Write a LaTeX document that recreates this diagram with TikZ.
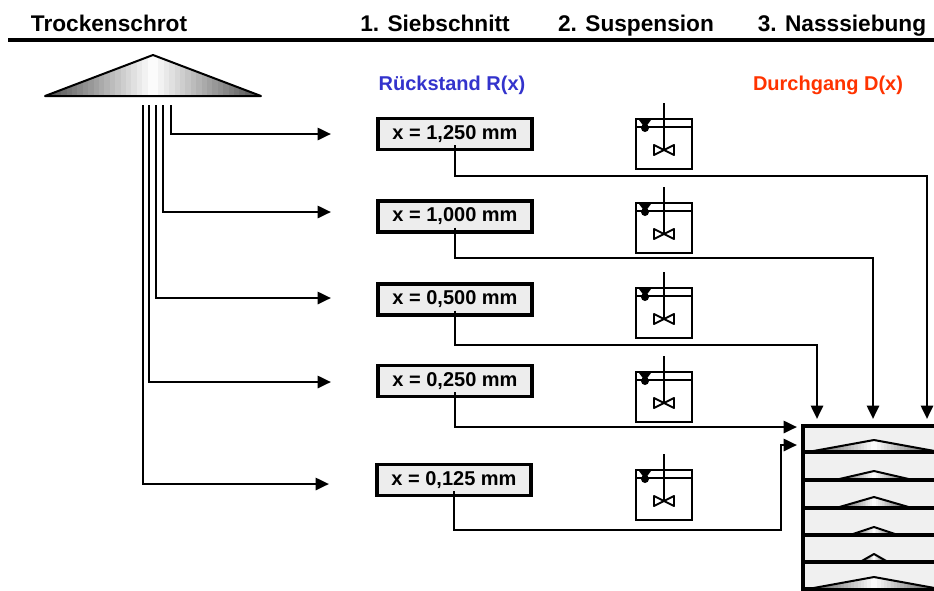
\documentclass[tikz,border=0pt]{standalone}
\usepackage{fontspec}
\setmainfont{Liberation Sans}
\usetikzlibrary{arrows.meta}
\definecolor{rblue}{RGB}{51,51,204}
\definecolor{dred}{RGB}{255,51,0}

% heap: apex x, base y, half width, height
\newcommand{\heapat}[4]{%
  \begin{scope}
    \clip (#1-#3,#2) -- (#1,#2-#4) -- (#1+#3,#2) -- cycle;
    \foreach \k [evaluate=\k as \gv using {70*abs(\k+0.5)/20}] in {-20,...,19}
      \fill[black!\gv] ({#1+\k*#3/20},#2-#4) rectangle ({#1+(\k+1)*#3/20+0.6},#2);
  \end{scope}
  \draw[line width=1.5pt,line join=round] (#1-#3,#2) -- (#1,#2-#4) -- (#1+#3,#2) -- cycle;
}

\tikzset{
  colhead/.style={anchor=base,inner sep=0.75pt,font=\fontsize{17}{20}\selectfont\bfseries},
  subhead/.style={anchor=base,inner sep=0.75pt,font=\fontsize{15}{18}\selectfont\bfseries},
  sieve/.style={draw,line width=2.4pt,fill=black!7,minimum width=115.5pt,minimum height=23.25pt,
    inner sep=0pt,font=\fontsize{15}{18}\selectfont\bfseries},
  feed/.style={line width=2pt,-{Triangle[length=10pt,width=9pt]}},
  tank/.pic={
    \begin{scope}[yscale=-1]
    \draw[line width=2pt] (0,0) rectangle (56,50);
    \draw[line width=1.2pt] (0,8) -- (56,8);
    \draw[line width=1.8pt] (28,-16) -- (28,31);
    \draw[line width=1.4pt,fill=white,line join=round] (18,26) -- (18,36) -- (38,26) -- (38,36) -- cycle;
    \fill (3,1) -- (15,1) -- (9,9) -- cycle;
    \fill (9,9) circle (4);
    \end{scope}
  }
}

\begin{document}
\begin{tikzpicture}[x=0.75pt,y=0.75pt,yscale=-1,xscale=1]
\clip (0,0) rectangle (934,590);

% Text Node
\node[colhead] (trocken) at (109,31) {Trockenschrot};
\node[colhead] (schnitt) at (435,31) {1. Siebschnitt};
\node[colhead] (susp) at (636,31) {2. Suspension};
\node[colhead] (nass) at (842,31) {3. Nasssiebung};
\draw[line width=2.4pt] (8,40) -- (934,40);

% Text Node
\node[subhead,text=rblue] (rueck) at (452,90) {Rückstand R(x)};
\node[subhead,text=dred] (durch) at (828,90) {Durchgang D(x)};

%Shape: heap of dry meal
\heapat{153}{96}{108}{41}

%Shape: sieve boxes
\node[sieve] (s1) at (455,134) {x = 1,250 mm};
\node[sieve] (s2) at (455,216.5) {x = 1,000 mm};
\node[sieve] (s3) at (455,299.5) {x = 0,500 mm};
\node[sieve] (s4) at (455,381) {x = 0,250 mm};
\node[sieve] (s5) at (454,480) {x = 0,125 mm};

%Shape: stirred tanks
\foreach \t in {119,203,288,372,470}
  \pic at (636,\t) {tank};

%Shape: sieve stack
\foreach \t/\b/\w/\h in {426/452/66/12,452/480/39/9,480/508/38/11,508/535/24/8,535/562/14/8,562/589/66/12}{
  \draw[line width=2.4pt,fill=black!6] (803,\t) rectangle (950,\b);
  \heapat{874}{\b}{\w}{\h}
}

% feed lines from the heap
\coordinate (f1) at (171,105);
\coordinate (f2) at (163,105);
\coordinate (f3) at (156,105);
\coordinate (f4) at (149,105);
\coordinate (f5) at (143,105);
\coordinate (a1) at (331,134);
\coordinate (a2) at (331,212);
\coordinate (a3) at (331,298);
\coordinate (a4) at (331,382);
\coordinate (a5) at (329,484);
\foreach \i in {1,...,5}
  \draw[feed] (f\i) |- (a\i);

% outlets to the wet sieving
\coordinate (c1) at (927,176);
\coordinate (d1) at (927,419);
\coordinate (c2) at (873,258);
\coordinate (d2) at (873,419);
\coordinate (c3) at (817,345);
\coordinate (d3) at (817,419);
\coordinate (d4) at (797,427);
\coordinate (c5) at (781,530);
\coordinate (d5) at (797,445);
\draw[feed] ([yshift=-4.5pt]s1.south) |- (c1) -- (d1);
\draw[feed] ([yshift=-4.5pt]s2.south) |- (c2) -- (d2);
\draw[feed] ([yshift=-4.5pt]s3.south) |- (c3) -- (d3);
\draw[feed] ([yshift=-4.5pt]s4.south) |- (d4);
\draw[feed] ([yshift=-4.5pt]s5.south) |- (c5) |- (d5);

\end{tikzpicture}
\end{document}
